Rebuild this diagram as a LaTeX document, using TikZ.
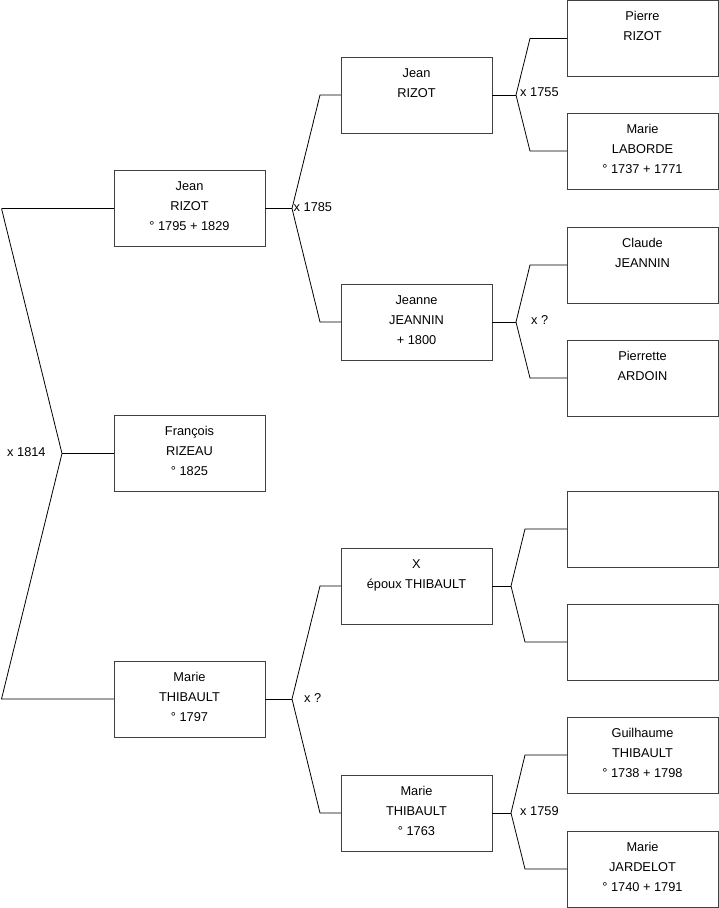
\documentclass[tikz,border=0pt]{standalone}
\usepackage{fontspec}
\setmainfont{Liberation Sans}
\begin{document}
\begin{tikzpicture}[x=1pt,y=-1pt,
  pbox/.style={draw=black!75,line width=0.9pt,minimum width=151pt,minimum height=76pt,inner sep=0pt,outer sep=0pt},
  ptext/.style={anchor=base,inner sep=0pt,font=\fontsize{12.8}{15}\selectfont},
  lbl/.style={anchor=west,inner sep=0pt,font=\fontsize{12.8}{15}\selectfont},
  conn/.style={draw=black,line width=0.8pt}]
\useasboundingbox (0,0) rectangle (719,908);
\newcommand\pers[6]{%
  \node[pbox] (#1) at (#2,#3+38) {};
  \node[ptext] (#1-a) at (#2,#3+20) {#4};
  \node[ptext] (#1-b) at (#2,#3+40) {#5};
  \node[ptext] (#1-c) at (#2,#3+60) {#6};}
% column 1
\pers{a1}{189.5}{170.5}{Jean}{RIZOT}{° 1795 + 1829}
\pers{a2}{189.5}{415.5}{François}{RIZEAU}{° 1825}
\pers{a3}{189.5}{661}{Marie}{THIBAULT}{° 1797}
% column 2
\pers{b1}{416.5}{57}{Jean}{RIZOT}{}
\pers{b2}{416.5}{284}{Jeanne}{JEANNIN}{+ 1800}
\pers{b3}{416.5}{548}{X}{époux THIBAULT}{}
\pers{b4}{416.5}{775}{Marie}{THIBAULT}{° 1763}
% column 3
\pers{c1}{642.5}{0.5}{Pierre}{RIZOT}{}
\pers{c2}{642.5}{113}{Marie}{LABORDE}{° 1737 + 1771}
\pers{c3}{642.5}{227}{Claude}{JEANNIN}{}
\pers{c4}{642.5}{340}{Pierrette}{ARDOIN}{}
\pers{c5}{642.5}{491}{}{}{}
\pers{c6}{642.5}{604}{}{}{}
\pers{c7}{642.5}{717}{Guilhaume}{THIBAULT}{° 1738 + 1798}
\pers{c8}{642.5}{831}{Marie}{JARDELOT}{° 1740 + 1791}
% left fork
\coordinate (L0) at (1.5,208.5);
\coordinate (Lv) at ([xshift=-52pt]a2.west);
\coordinate (L2) at (1.5,699);
\draw[conn] (L0) -- (a1.west);
\draw[conn] (L0) -- (Lv) -- (L2) -- (a3.west);
\draw[conn] (Lv) -- (a2.west);
\node[lbl] (m0) at (7,452) {x 1814};
% column 1 -> 2
\coordinate (v1) at ([xshift=27pt]a1.east);
\draw[conn] (a1.east) -- (v1);
\draw[conn] (b1.west) -- ([xshift=-21pt]b1.west) -- (v1) -- ([xshift=-21pt]b2.west) -- (b2.west);
\node[lbl] (m1) at ([xshift=1.5pt,yshift=1.5pt]v1) {x 1785};
\coordinate (v2) at ([xshift=27pt]a3.east);
\draw[conn] (a3.east) -- (v2);
\draw[conn] (b3.west) -- ([xshift=-21pt]b3.west) -- (v2) -- ([xshift=-21pt]b4.west) -- (b4.west);
\node[lbl] (m2) at ([xshift=12pt,yshift=1pt]v2) {x ?};
% column 2 -> 3
\coordinate (v3) at ([xshift=24pt]b1.east);
\draw[conn] (b1.east) -- (v3);
\draw[conn] (c1.west) -- ([xshift=-37pt]c1.west) -- (v3) -- ([xshift=-37pt]c2.west) -- (c2.west);
\node[lbl] (m3) at ([xshift=4pt,yshift=2.5pt]v3) {x 1755};
\coordinate (v4) at ([xshift=24pt]b2.east);
\draw[conn] (b2.east) -- (v4);
\draw[conn] (c3.west) -- ([xshift=-37pt]c3.west) -- (v4) -- ([xshift=-37pt]c4.west) -- (c4.west);
\node[lbl] (m4) at ([xshift=15pt,yshift=1.5pt]v4) {x ?};
\coordinate (v5) at ([xshift=19pt]b3.east);
\draw[conn] (b3.east) -- (v5);
\draw[conn] (c5.west) -- ([xshift=-42pt]c5.west) -- (v5) -- ([xshift=-42pt]c6.west) -- (c6.west);
\coordinate (v6) at ([xshift=19pt]b4.east);
\draw[conn] (b4.east) -- (v6);
\draw[conn] (c7.west) -- ([xshift=-42pt]c7.west) -- (v6) -- ([xshift=-42pt]c8.west) -- (c8.west);
\node[lbl] (m6) at ([xshift=9pt,yshift=2pt]v6) {x 1759};
\end{tikzpicture}
\end{document}
